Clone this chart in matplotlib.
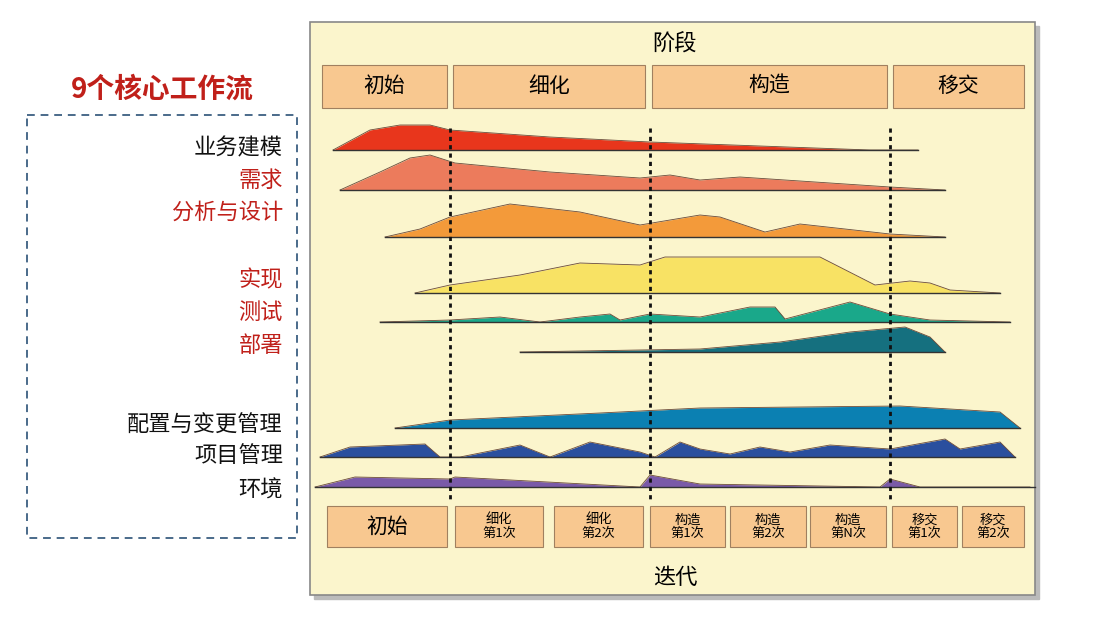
import matplotlib.pyplot as plt
from matplotlib.patches import Rectangle

plt.rcParams['font.family'] = ['Noto Sans CJK SC', 'DejaVu Sans']

# workflow names, label colours, baselines, hump profiles (x, height)
workflows = ["业务建模", "需求", "分析与设计", "实现", "测试", "部署", "配置与变更管理", "项目管理", "环境"]
label_colors = ["#111111", "#c0201a", "#c0201a", "#c0201a", "#c0201a", "#c0201a", "#111111", "#111111", "#111111"]
label_y = [148, 180, 212, 280, 312, 346, 425, 456, 490]
fill_colors = ["#e8361c", "#ec7b5c", "#f39a3a", "#f8e264", "#1aa88a", "#15707f", "#0b80b2", "#2a4f9e", "#7a5aa8"]
baselines = [150, 190, 237, 293, 322, 352, 428, 457, 487]
line_ends = [(333, 918), (340, 945), (385, 945), (415, 1000), (380, 1010), (520, 945), (395, 1020), (320, 1015), (315, 1035)]

biz_x = [333, 370, 400, 430, 450, 550, 650, 760, 870, 918]
biz_h = [0, 20, 25, 25, 20, 13, 8, 4, 0, 0]
req_x = [340, 380, 410, 430, 455, 550, 640, 670, 700, 740, 800, 890, 945]
req_h = [0, 18, 32, 35, 27, 18, 12, 15, 10, 13, 9, 3, 0]
ana_x = [385, 420, 450, 510, 580, 640, 700, 720, 765, 800, 890, 945]
ana_h = [0, 8, 20, 33, 25, 12, 22, 20, 5, 13, 3, 0]
imp_x = [415, 450, 520, 580, 640, 665, 820, 875, 910, 930, 950, 1000]
imp_h = [0, 8, 18, 30, 28, 36, 36, 8, 12, 10, 3, 0]
tst_x = [380, 450, 500, 540, 580, 610, 620, 650, 700, 750, 775, 785, 850, 890, 930, 1010]
tst_h = [0, 2, 5, 0, 5, 8, 2, 8, 5, 15, 15, 3, 20, 8, 2, 0]
dep_x = [520, 700, 780, 850, 905, 930, 945]
dep_h = [0, 3, 10, 20, 25, 15, 0]
cfg_x = [395, 450, 600, 700, 900, 1000, 1020]
cfg_h = [0, 8, 15, 20, 22, 16, 0]
pm_x = [320, 350, 425, 440, 460, 520, 550, 590, 640, 655, 680, 700, 730, 760, 790, 830, 890, 945, 960, 1000, 1015]
pm_h = [0, 10, 13, 0, 0, 12, 0, 15, 5, 0, 15, 8, 3, 10, 5, 12, 8, 18, 8, 15, 0]
env_x = [315, 355, 450, 455, 640, 650, 700, 880, 890, 920, 1030]
env_h = [0, 10, 8, 10, 0, 12, 3, 0, 8, 0, 0]
profiles = [(biz_x, biz_h), (req_x, req_h), (ana_x, ana_h), (imp_x, imp_h), (tst_x, tst_h),
            (dep_x, dep_h), (cfg_x, cfg_h), (pm_x, pm_h), (env_x, env_h)]

phases = ["初始", "细化", "构造", "移交"]
phase_spans = [(322, 447), (453, 645), (652, 887), (893, 1024)]
iterations = ["初始", "细化\n第1次", "细化\n第2次", "构造\n第1次", "构造\n第2次", "构造\n第N次", "移交\n第1次", "移交\n第2次"]
iter_spans = [(327, 447), (455, 543), (554, 643), (650, 725), (730, 806), (810, 886), (892, 957), (962, 1024)]
milestones = [450, 650, 890]

fig = plt.figure(figsize=(11.2, 6.26), dpi=100)
ax = fig.add_axes([0, 0, 1, 1])
ax.set_xlim(0, 1120)
ax.set_ylim(626, 0)
ax.axis("off")

# panel with shadow
ax.add_patch(Rectangle((314, 26), 725, 573, color="#bbbbbb", zorder=0))
ax.add_patch(Rectangle((310, 22), 725, 573, facecolor="#fbf5cc", edgecolor="#888888", lw=1.2, zorder=1))
ax.text(675, 44, "阶段", ha="center", va="center", fontsize=16, zorder=5)
ax.text(675, 577, "迭代", ha="center", va="center", fontsize=16, zorder=5)

for name, (a, b) in zip(phases, phase_spans):
    ax.add_patch(Rectangle((a, 65), b - a, 43, facecolor="#f8c890", edgecolor="#a08060", lw=0.8, zorder=3))
    ax.text((a + b) / 2, 86, name, ha="center", va="center", fontsize=15, zorder=4)
for name, (a, b) in zip(iterations, iter_spans):
    ax.add_patch(Rectangle((a, 506), b - a, 41, facecolor="#f8c890", edgecolor="#a08060", lw=0.8, zorder=3))
    ax.text((a + b) / 2, 527, name, ha="center", va="center",
            fontsize=15 if "\n" not in name else 9.5, linespacing=1.1, zorder=4)

for (xs, hs), base, color, (x0, x1) in zip(profiles, baselines, fill_colors, line_ends):
    tops = [base - h for h in hs]
    ax.fill_between(xs, tops, base, color=color, lw=0, zorder=2)
    ax.plot(xs, tops, color="#6a4a3a", lw=0.6, zorder=2)
    ax.plot([x0, x1], [base, base], color="#333333", lw=1.0, zorder=2)

for mx in milestones:
    ax.plot([mx, mx], [128, 500], color="#111111", lw=2, ls=(0, (1.5, 1.5)), zorder=3)

# left legend block
ax.text(162, 90, "9个核心工作流", ha="center", va="center", fontsize=20, color="#c0201a", fontweight="bold")
ax.add_patch(Rectangle((27, 115), 270, 423, fill=False, edgecolor="#4a6a8a", lw=1.4, ls=(0, (4, 3))))
for name, y, c in zip(workflows, label_y, label_colors):
    ax.text(283, y, name, ha="right", va="center", fontsize=16, color=c, fontweight="medium")

fig.savefig("out.png", dpi=100)
